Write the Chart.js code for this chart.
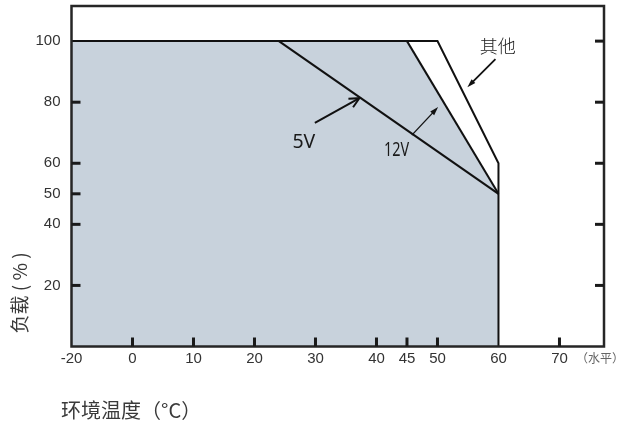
<!DOCTYPE html>
<html>
<head>
<meta charset="utf-8">
<script src="https://cdn.jsdelivr.net/npm/chart.js@4/dist/chart.umd.min.js"></script>
<style>
  body { margin: 0; background: #fff; }
</style>
</head>
<body>
<canvas id="derating" width="618" height="426"></canvas>
<script>
// derating curves: temperature (°C) vs load (%)
const fillTemp = [-20, 45, 60];
const fillLoad = [100, 100, 50];
const otherTemp = [-20, 50, 60, 60];
const otherLoad = [100, 100, 60, 0];
const v12Temp = [45, 60];
const v12Load = [100, 50];
const v5Temp = [24, 60];
const v5Load = [100, 50];

const xTicks = [-20, 0, 10, 20, 30, 40, 45, 50, 60, 70];
const yTicks = [20, 40, 50, 60, 80, 100];
const yTicksRight = [20, 40, 60, 80, 100];
const bottomTickMarks = [0, 10, 20, 30, 40, 45, 50, 70];
const leftTickMarks = [20, 40, 50, 60, 80];

// the -20..0 span is drawn at half scale in the original
const axisX = t => (t < 0 ? t / 2 : t);
const labelX = v => (v < 0 ? v * 2 : v);

const pts = (xs, ys) => xs.map((x, i) => ({ x: axisX(x), y: ys[i] }));

// callouts, in chart units
const callouts = [
  { text: "5V", at: [28.1, 66.8], from: [29.9, 73.2], to: [37.2, 81.3], font: "19.5px 'Noto Sans'", lw: 2, head: "open", squeeze: 1 },
  { text: "12V", at: [43.3, 64.3], from: [45.8, 69.2], to: [50.1, 78.4], font: "20px 'Noto Sans'", lw: 1.3, head: "fill", squeeze: 0.72 },
  { text: "其他", at: [59.9, 98.5], from: [59.5, 94.1], to: [54.9, 84.9], font: "300 18px 'Noto Sans CJK SC'", lw: 1.8, head: "fill", squeeze: 1 },
];

function arrow(ctx, x1, y1, x2, y2, lw, head) {
  const a = Math.atan2(y2 - y1, x2 - x1);
  const len = head === "open" ? 11 : 9;
  const wid = head === "open" ? 0.45 : 0.3;
  ctx.strokeStyle = "#111";
  ctx.fillStyle = "#111";
  ctx.lineWidth = lw;
  ctx.beginPath();
  ctx.moveTo(x1, y1);
  ctx.lineTo(x2 - Math.cos(a) * (head === "fill" ? len * 0.8 : 1), y2 - Math.sin(a) * (head === "fill" ? len * 0.8 : 1));
  ctx.stroke();
  const ax = x2 - Math.cos(a - wid) * len, ay = y2 - Math.sin(a - wid) * len;
  const bx = x2 - Math.cos(a + wid) * len, by = y2 - Math.sin(a + wid) * len;
  ctx.beginPath();
  if (head === "open") {
    ctx.moveTo(ax, ay);
    ctx.lineTo(x2, y2);
    ctx.lineTo(bx, by);
    ctx.stroke();
  } else {
    ctx.moveTo(x2, y2);
    ctx.lineTo(ax, ay);
    ctx.lineTo(bx, by);
    ctx.closePath();
    ctx.fill();
  }
}

const decor = {
  id: "decor",
  afterDatasetsDraw(chart) {
    const { ctx, chartArea: ca, scales: { x, y } } = chart;
    ctx.save();

    // frame
    ctx.strokeStyle = "#262626";
    ctx.lineWidth = 2.5;
    ctx.strokeRect(ca.left, ca.top, ca.right - ca.left, ca.bottom - ca.top);

    // inward tick marks
    ctx.fillStyle = "#1a1a1a";
    leftTickMarks.forEach(v => {
      const py = y.getPixelForValue(v);
      ctx.fillRect(ca.left, py - 1.5, 9, 3);
    });
    yTicksRight.forEach(v => {
      const py = y.getPixelForValue(v);
      ctx.fillRect(ca.right - 9, py - 1.5, 9, 3);
    });
    bottomTickMarks.forEach(v => {
      const px = x.getPixelForValue(axisX(v));
      ctx.fillRect(px - 1.5, ca.bottom - 9, 3, 9);
    });

    // callouts
    callouts.forEach(c => {
      arrow(ctx,
        x.getPixelForValue(c.from[0]), y.getPixelForValue(c.from[1]),
        x.getPixelForValue(c.to[0]), y.getPixelForValue(c.to[1]),
        c.lw, c.head);
      ctx.save();
      ctx.translate(x.getPixelForValue(c.at[0]), y.getPixelForValue(c.at[1]));
      ctx.scale(c.squeeze, 1);
      ctx.font = c.font;
      ctx.fillStyle = "#1a1a1a";
      ctx.textAlign = "center";
      ctx.textBaseline = "middle";
      ctx.fillText(c.text, 0, 0);
      ctx.restore();
    });

    // unit note after the last x label
    ctx.font = "12px 'Noto Sans CJK SC'";
    ctx.fillStyle = "#666";
    ctx.textAlign = "left";
    ctx.textBaseline = "middle";
    ctx.fillText("（水平）", 576, 358);

    // axis titles
    ctx.font = "20px 'Noto Sans CJK SC'";
    ctx.fillStyle = "#3a3a3a";
    ctx.fillText("环境温度（°C）", 61, 410);

    ctx.save();
    ctx.translate(20, 293);
    ctx.rotate(-Math.PI / 2);
    ctx.textAlign = "center";
    ctx.font = "19px 'Noto Sans CJK SC'";
    ctx.fillText("负载 ( % )", 0, 0);
    ctx.restore();

    ctx.restore();
  },
};

const lineStyle = { showLine: true, pointRadius: 0, borderColor: "#111", borderWidth: 2, fill: false };

new Chart(document.getElementById("derating"), {
  type: "scatter",
  data: {
    datasets: [
      { ...lineStyle, label: "其他", data: pts(otherTemp, otherLoad) },
      { ...lineStyle, label: "12V", data: pts(v12Temp, v12Load) },
      { ...lineStyle, label: "5V", data: pts(v5Temp, v5Load) },
      {
        label: "area", data: pts(fillTemp, fillLoad), showLine: true, pointRadius: 0,
        borderWidth: 0, fill: "origin", backgroundColor: "#c8d2dc", order: 10,
      },
    ],
  },
  options: {
    responsive: false,
    animation: false,
    layout: { padding: { left: 0, right: 14, top: 6, bottom: 0 } },
    plugins: { legend: { display: false }, tooltip: { enabled: false } },
    scales: {
      x: {
        type: "linear",
        min: -10,
        max: 77.3,
        grid: { display: false, drawTicks: false },
        border: { display: false },
        afterBuildTicks: s => { s.ticks = xTicks.map(t => ({ value: axisX(t) })); },
        afterFit: s => { s.height = 79.5; s.paddingLeft = 0; s.paddingRight = 0; },
        ticks: {
          autoSkip: false,
          maxRotation: 0,
          padding: 3,
          color: "#333",
          font: { family: "'Liberation Sans', Arial", size: 15 },
          callback: v => labelX(v),
        },
      },
      y: {
        min: 0,
        max: 111.5,
        grid: { display: false, drawTicks: false },
        border: { display: false },
        afterBuildTicks: s => { s.ticks = yTicks.map(t => ({ value: t })); },
        afterFit: s => { s.width = 71.5; s.paddingTop = 0; s.paddingBottom = 0; },
        ticks: {
          padding: 11,
          color: "#333",
          font: { family: "'Liberation Sans', Arial", size: 15 },
        },
      },
    },
  },
  plugins: [decor],
});
</script>
</body>
</html>
